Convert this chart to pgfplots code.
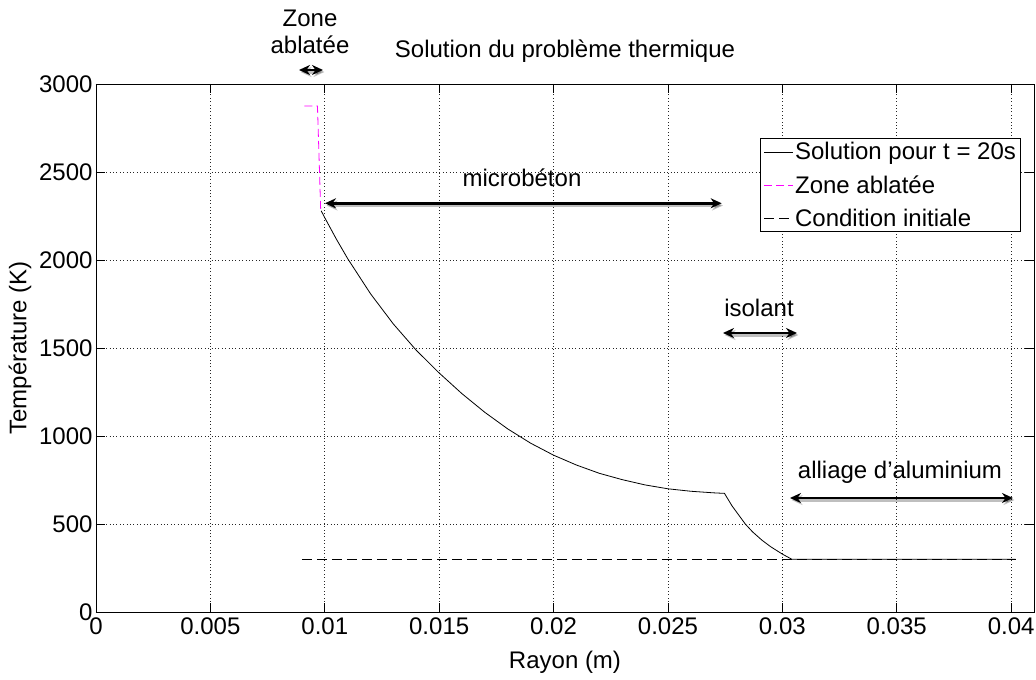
\documentclass[border=0pt]{standalone}
\usepackage{fontspec}
\setmainfont{Liberation Sans}
\usepackage{pgfplots}
\pgfplotsset{compat=1.18}
\usetikzlibrary{arrows.meta}
\definecolor{mag}{RGB}{255,0,255}
\begin{document}
\begin{tikzpicture}[x=1bp,y=1bp,font=\fontsize{24bp}{28bp}\selectfont]
\useasboundingbox (-96,-68) rectangle (940,612);
\begin{axis}[
  at={(0,0)}, anchor=south west,
  scale only axis, width=938bp, height=528bp,
  xmin=0, xmax=0.041, ymin=0, ymax=3000,
  scaled x ticks=false, scaled y ticks=false,
  xtick={0,0.005,0.01,0.015,0.02,0.025,0.03,0.035,0.04},
  xticklabels={0,0.005,0.01,0.015,0.02,0.025,0.03,0.035,0.04},
  ytick={0,500,1000,1500,2000,2500,3000},
  yticklabels={0,500,1000,1500,2000,2500,3000},
  xtick pos=both, ytick pos=both,
  tick align=inside, major tick length=9bp,
  grid=major,
  major grid style={black!85, line width=0.6bp, dash pattern=on 0.8bp off 2.6bp},
  axis line style={black, line width=0.9bp},
  tick style={black, line width=0.9bp},
  ticklabel style={font=\fontsize{24bp}{28bp}\selectfont},
  xticklabel style={yshift=-2bp},
  /pgf/number format/assume math mode=true,
  title={Solution du problème thermique},
  title style={at={(axis description cs:0.5,1.0398)}, anchor=base},
  xlabel={Rayon (m)},
  xlabel style={at={(axis description cs:0.5,-0.0947)}, anchor=center},
  ylabel={Température (K)},
  ylabel style={at={(axis description cs:-0.081,0.5)}, anchor=center},
  legend cell align=left,
  legend image code/.code={\draw[#1] (0bp,0bp) -- (29bp,0bp);},
  legend style={at={(axis description cs:0.986,0.7197)}, anchor=south east,
    draw=black, line width=0.9bp, fill=white,
    font=\fontsize{24bp}{28bp}\selectfont,
    inner xsep=3bp, inner ysep=2bp, row sep=10bp,
    nodes={inner xsep=1.5bp, inner ysep=2bp}},
]
\addplot[black, line width=0.8bp] coordinates {
 (0.00984,2280) (0.0100,2240) (0.0105,2120) (0.0110,2008) (0.0120,1808)
 (0.0130,1636) (0.0140,1487) (0.0150,1358) (0.0160,1240) (0.0170,1134)
 (0.0180,1040) (0.0190,959) (0.0200,891) (0.0210,835) (0.0220,788)
 (0.0230,752) (0.0240,722) (0.0250,700) (0.0260,686) (0.0270,677)
 (0.02747,674) (0.0278,603) (0.02838,500) (0.0287,455) (0.0291,409)
 (0.0295,370) (0.0300,329) (0.03041,300) (0.0402,300)
};
\addlegendentry{Solution pour t = 20s}
\addplot[mag, line width=0.8bp, dash pattern=on 8bp off 4bp] coordinates {
 (0.00911,2875) (0.00968,2875) (0.00982,2290)
};
\addlegendentry{Zone ablatée}
\addplot[black, line width=0.8bp, dash pattern=on 10bp off 5bp] coordinates {
 (0.0090,300) (0.0402,300)
};
\addlegendentry{Condition initiale}
\end{axis}
% annotations (pixel -> bp: (px-96, 612-py))
\tikzset{arr/.style={{Stealth[length=11bp,width=10bp]}-{Stealth[length=11bp,width=10bp]}, line width=2.6bp},
         sh/.style={arr, black, opacity=0.25, line width=3.5bp}}
\node[align=center, font=\fontsize{24bp}{27bp}\selectfont] at (214,580.5) {Zone\\ablatée};
\draw[sh] (204.5,540) -- (228.5,540);
\draw[arr] (203,542) -- (227,542);
\node at (426,434) {microbéton};
\draw[sh] (230.5,406.5) -- (627,406.5);
\draw[arr] (229,408.7) -- (625.7,408.7);
\node at (663,304) {isolant};
\draw[sh] (628.5,277) -- (702.5,277);
\draw[arr] (627,279) -- (701,279);
\node at (804,140) {alliage d’aluminium};
\draw[sh] (695.5,112) -- (918.5,112);
\draw[arr] (694,114) -- (917,114);
\end{tikzpicture}
\end{document}
